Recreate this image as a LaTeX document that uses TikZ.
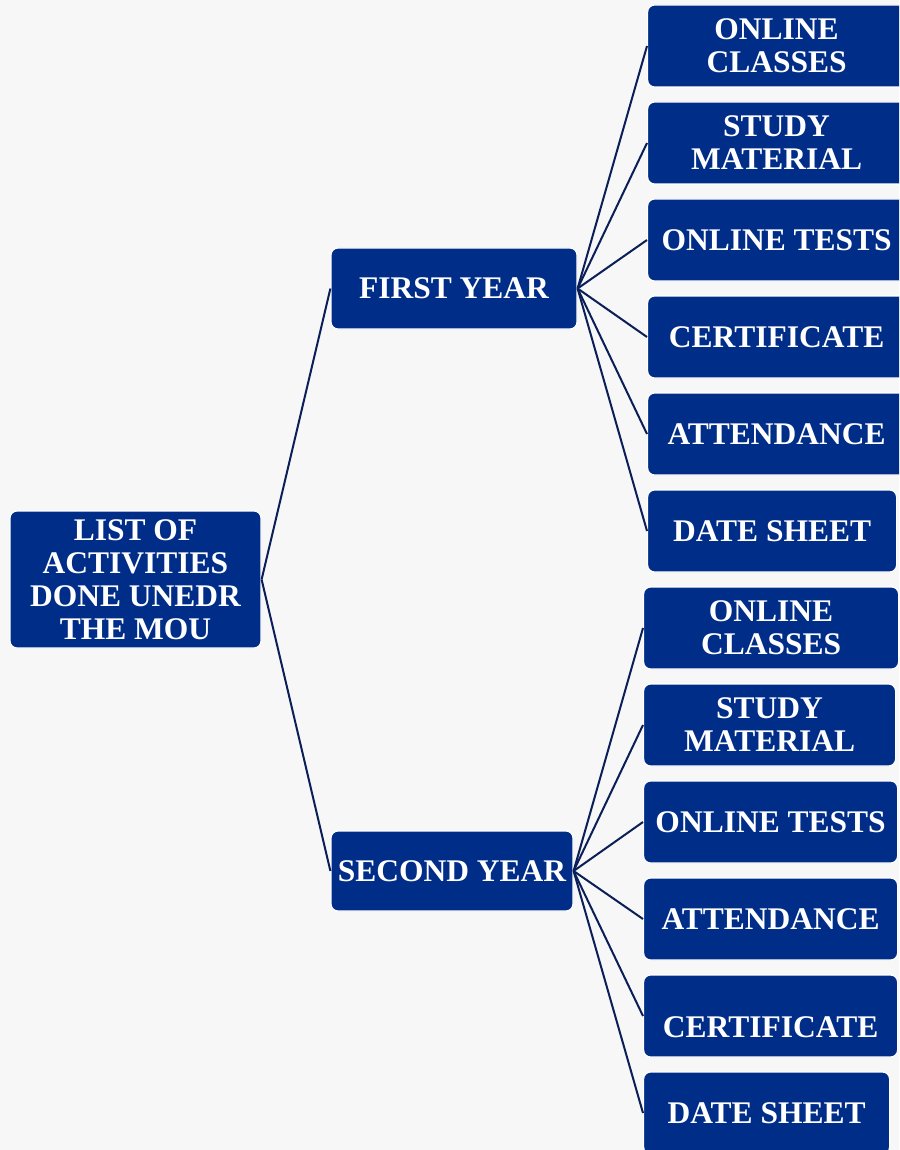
\documentclass[tikz,border=0pt]{standalone}
\usepackage{fontspec}
\setmainfont{Liberation Serif}
\definecolor{boxblue}{HTML}{002D87}
\definecolor{linenavy}{HTML}{0A1E58}
\definecolor{paper}{HTML}{F7F7F7}

\begin{document}
\begin{tikzpicture}[x=1pt, y=-1pt,
    box/.style={draw=white, line width=1.2pt, fill=boxblue, rounded corners=7pt,
      text=white, font=\bfseries\fontsize{31.5}{33}\selectfont, align=center,
      inner sep=0pt, minimum height=82pt},
    link/.style={draw=linenavy, line width=2pt}]
    \fill [paper] (0,0) rectangle (899,1150);
    \useasboundingbox (0,0) rectangle (899,1150);
    \clip (0,0) rectangle (899,1150);

    \node [box, minimum width=251pt, minimum height=137pt] (root) at (135.5,579.5)
      {LIST OF\\ ACTIVITIES\\ DONE UNEDR\\ THE MOU};
    \node [box, minimum width=246pt, minimum height=81pt] (fy) at (454,288.5) {FIRST YEAR};
    \node [box, minimum width=242pt, minimum height=80pt] (sy) at (452,871) {SECOND YEAR};
    \draw [link] (root.east) -- (fy.west);
    \draw [link] (root.east) -- (sy.west);

    % first year
    \foreach \n/\y/\w/\t in {f1/46/258/{ONLINE\\ CLASSES}, f2/143/258/{STUDY\\ MATERIAL},
        f3/240/258/{ONLINE TESTS}, f4/337/258/{CERTIFICATE}, f5/434/258/{ATTENDANCE},
        f6/531/249/{DATE SHEET}} {
      \node [box, anchor=west, minimum width=\w pt] (\n) at (647,\y) {\t};
      \draw [link] (fy.east) -- (\n.west);
    }

    % second year
    \foreach \n/\y/\w/\t in {s1/628/255/{ONLINE\\ CLASSES}, s2/725/252/{STUDY\\ MATERIAL},
        s3/822/254/{ONLINE TESTS}, s4/919/254/{ATTENDANCE}, s6/1113/246/{DATE SHEET}} {
      \node [box, anchor=west, minimum width=\w pt] (\n) at (643,\y) {\t};
      \draw [link] (sy.east) -- (\n.west);
    }
    % text sits lower in this one
    \node [box, anchor=west, minimum width=254pt, text height=43pt, text depth=0pt] (s5) at (643,1016) {CERTIFICATE};
    \draw [link] (sy.east) -- (s5.west);
\end{tikzpicture}
\end{document}
